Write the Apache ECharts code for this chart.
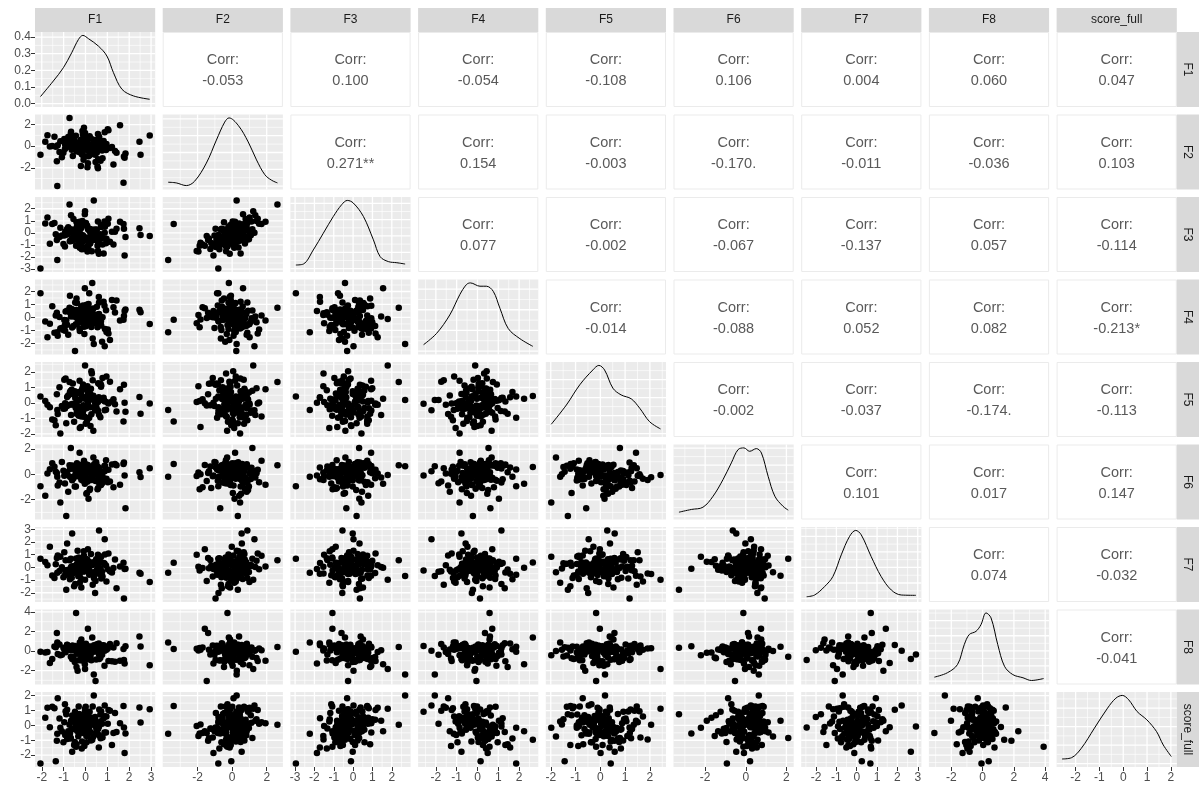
<!DOCTYPE html>
<html>
<head>
<meta charset="utf-8">
<script src="https://cdn.jsdelivr.net/npm/echarts@6/dist/echarts.min.js"></script>
<style>
  html, body { margin: 0; padding: 0; background: #ffffff; }
  #chart { width: 1199px; height: 790px; }
</style>
</head>
<body>
<div id="chart"></div>
<script>
// ---- variables (one array per column of the data set) ----
const variables = ['F1', 'F2', 'F3', 'F4', 'F5', 'F6', 'F7', 'F8', 'score_full'];

const F1 = [-2.06, 2.94, 2.47, 2.52, -1.29, 1.74, -0.43, 0.62,
  -0.35, 0.12, -1.42, 0.58, -0.08, 1.21, -0.66, 0.33, 0.04, -0.21,
  0.87, -0.94, 0.25, -0.48, 1.76, -0.12, 0.61, -1.15, -0.29, 0.46,
  -0.73, -0.05, 0.19, -1.63, 0.78, -0.39, 1.02, -0.17, -0.88, 0.31,
  -0.55, 0.09, -1.27, 0.52, -0.02, 0.94, -0.61, 0.17, -1.84, 0.69,
  -0.26, 1.35, -0.44, 0.05, -0.97, 0.38, 1.83, -0.14, -0.52, 0.83,
  -1.08, 0.27, -0.31, -0.79, 0.11, 0.72, -1.36, -0.03, 0.44, -0.67,
  1.12, -0.23, 0.57, -1.52, 0.21, -0.41, 0.96, -0.09, -0.84, 0.36,
  1.58, -1.01, 0.14, -0.58, 0.68, -0.19, -1.74, 0.29, -0.36, 1.28,
  0.01, -0.71, 0.49, -1.19, 0.88, 1.79, -0.27, 0.62, -0.47, 0.07,
  -1.31, 0.41, -0.11, 1.05, -0.63, 0.23, 0.55, -0.91, 1.42, -0.16,
  -0.07, 0.76,
  -0.45, 0.18, -0.22, 0.36, -0.61, 0.08, 0.52, -0.33, 0.27, -0.05,
  0.71, -0.84, 0.13, -0.19, 0.44, -0.38, 0.02, 0.63, -0.71, 0.31,
  -0.12, 0.89, -0.49, 0.22, -0.27, 0.57, -0.03, -0.93, 0.39, 0.15];

const F2 = [-0.80, 1.00, 0.40, -0.80, -3.70, -3.38, -0.27, 0.88,
  0.15, -0.42, 0.88, -1.21, 0.37, -0.08, 1.34, -0.65, 0.52, -1.83,
  0.03, -0.27, 0.71, 0.24, -0.96, 1.08, -0.14, 0.46, -0.53, -1.47,
  2.62, -0.31, 0.92, -0.02, -1.12, 0.19, 1.56, -0.74, 0.33, -0.19,
  0.78, -1.95, 0.08, -0.58, 1.22, -0.36, 0.55, -0.87, 0.41, -1.34,
  0.12, -0.45, 0.97, -0.11, 0.67, 0.26, -0.69, 1.41, -0.24, 0.49,
  -1.02, 0.06, -0.38, 0.84, -1.58, 0.29, -0.05, 0.63, -0.79, 1.17,
  -0.16, 0.38, -2.05, 0.01, 0.74, -0.47, 0.21, -1.26, 0.56, -0.29,
  1.93, -0.62, 0.14, -0.91, 0.44, -0.12, 1.01, -0.35, 0.27, -1.71,
  0.69, -0.07, 0.35, -0.55, 1.29, -1.08, 0.17, 0.82, -0.21, 0.04,
  -1.39, 0.58, -0.83, 1.48, -0.33, 0.09, -1.88, 0.47, -0.60, 0.22,
  1.70, -0.40,
  0.32, -0.18, 0.54, -0.47, 0.11, 0.73, -0.29, 0.06, -0.66, 0.42,
  -0.09, 0.28, -0.94, 0.61, 0.17, -0.37, 0.85, -0.12, 0.36, -0.53,
  0.04, -0.21, 0.49, -0.78, 0.23, 1.12, -0.31, 0.14, -0.05, 0.67];

const F3 = [-2.96, -0.26, 0.39, -0.18, -2.24, 0.73, -1.07, -0.55,
  -0.57, 0.28, 0.81, -0.84, -1.21, 0.10, 1.45, -0.55, -0.49, -0.82,
  0.94, -1.13, 0.23, -0.31, 0.35, -0.19, -1.72, 0.43, -0.38, -0.26,
  2.36, -0.66, 0.16, -0.90, -0.97, 0.53, 0.75, -1.36, 0.18, -0.42,
  1.14, -1.54, -0.31, 0.27, 1.79, -0.85, -0.02, -0.78, 0.78, -0.47,
  -1.23, 0.09, -0.52, 0.59, -0.21, 2.69, -0.35, 0.99, -0.53, -1.71,
  -0.22, -0.26, -1.08, 0.46, -1.07, 0.48, -0.11, 1.55, -0.56, 0.31,
  -0.73, -0.09, -1.50, 0.74, -0.89, 0.88, -0.48, -1.33, 0.33, -0.40,
  0.93, -0.92, 0.32, -0.60, -0.11, 0.51, 1.27, -1.53, 0.02, -0.96,
  0.73, -0.68, 0.23, -0.35, 0.02, -1.87, 0.93, -0.37, 0.30, -0.42,
  -0.60, 0.28, -0.27, 1.16, -0.67, -0.09, -1.06, -0.13, 0.35, -0.79,
  0.73, -0.42,
  -0.21, 0.35, -0.62, 0.12, -0.43, 0.58, -0.08, -0.91, 0.27, -0.35,
  0.66, -0.14, -1.18, 0.41, -0.52, 0.03, 0.82, -0.29, -0.69, 0.19,
  -0.37, 0.51, -0.02, -0.83, 0.24, 0.94, -0.46, 0.07, -0.58, 0.33];

const F4 = [1.86, -0.50, 0.60, 0.40, -1.14, -0.17, 0.58, 1.15,
  -0.42, 0.65, -1.18, 0.23, -0.71, 1.34, 0.08, -1.62, 0.47, -0.15,
  0.91, -0.58, 0.36, -2.59, 0.12, -0.34, 1.57, -0.86, 0.29, -0.05,
  0.74, -1.27, 0.51, -0.48, 0.02, 1.12, -0.93, 0.41, -0.22, 2.66,
  -0.66, 0.18, -1.41, 0.83, -0.11, 0.55, -0.77, 1.86, -0.31, 0.06,
  -1.05, 0.38, -0.53, 0.97, -0.19, -2.05, 0.62, -0.37, 0.26, 1.21,
  -0.81, 0.44, -0.02, -1.33, 0.71, -0.62, 0.15, 2.24, -0.27, 0.53,
  -1.74, 0.33, -0.45, 0.87, -0.09, 1.45, -1.12, 0.21, -0.57, 0.68,
  -0.24, -0.96, 1.03, 0.11, -0.39, 0.58, -1.52, 0.32, -0.14, 0.79,
  -0.68, 1.68, -0.33, 0.04, -2.21, 0.49, -0.86, 0.27, 1.15, -0.51,
  0.36, -0.18, 0.93, -1.24, 0.61, -0.01, -0.75, 0.45, 1.31, -0.29,
  0.16, -1.87,
  0.21, -0.36, 0.47, -0.12, 0.64, -0.55, 0.09, 0.33, -0.74, 0.16,
  -0.28, 0.52, -0.03, 0.85, -0.44, 0.27, -0.61, 0.13, 0.39, -0.19,
  0.71, -0.88, 0.05, -0.32, 0.58, -0.07, 0.42, -1.02, 0.24, -0.49];

const F5 = [0.42, -0.04, 0.38, -0.70, -0.46, -1.20, -0.17, 0.28,
  -0.23, 0.56, -1.12, 1.28, -0.41, 0.09, -0.78, 1.47, 0.31, -1.55,
  0.14, -0.36, 0.92, -0.05, 1.18, -0.64, 0.37, -1.98, 0.71, -0.17,
  1.35, -0.89, 0.22, -0.28, 1.62, -0.52, 0.03, 0.83, -1.31, 0.45,
  -0.12, 1.09, -0.71, 0.26, 2.43, -0.44, 0.58, -0.95, 0.12, 1.24,
  -1.62, -0.08, 0.67, -0.33, 1.51, 0.19, -0.57, 0.96, -1.21, 0.34,
  -0.19, 2.05, -0.83, 0.48, -0.02, 1.13, -1.44, 0.28, -0.49, 0.79,
  1.38, -0.26, 0.06, -1.07, 0.62, -0.69, 1.72, -0.14, 0.39, -1.79,
  0.88, -0.38, 0.17, 1.26, -0.93, 0.53, -0.11, 1.91, -0.61, 0.24,
  -1.35, 0.71, -0.21, 1.02, -0.47, 0.01, 1.44, -0.76, 0.32, -1.16,
  0.57, -0.30, 1.19, -0.04, 0.85, -1.49, 0.13, 1.58, -0.55, 0.42,
  -0.87, 0.20,
  -0.31, 0.22, -0.58, 0.47, -0.06, 0.81, -0.42, 0.14, -0.73, 0.36,
  1.05, -0.19, 0.28, -0.87, 0.02, 0.63, -0.34, 1.22, -0.11, 0.45,
  -0.64, 0.09, 0.76, -0.27, 0.19, -0.48, 0.93, -0.02, 0.33, -0.95];

const F6 = [-0.93, 0.48, 0.16, -0.20, -0.19, 0.82, -0.12, -0.64,
  0.35, -0.42, 0.61, -1.08, 0.12, 0.79, -0.25, 0.48, -1.53, 0.02,
  0.66, -0.71, 0.27, -0.08, 0.93, -0.36, 0.54, -2.21, 0.18, -0.53,
  0.72, 0.05, -1.24, 0.41, -0.15, 0.87, -0.62, 0.31, -3.29, 0.58,
  -0.31, 0.14, -0.87, 0.69, -0.04, 1.12, -0.47, 0.38, -1.69, 0.24,
  -0.18, 0.82, -0.95, 0.52, -0.11, 0.64, -2.68, 0.09, 0.45, -0.39,
  0.97, -0.22, 0.33, -1.36, 0.75, -0.06, 0.21, -0.74, 0.57, 2.09,
  -0.56, 0.43, -0.13, 0.88, -1.14, 0.16, -0.34, 0.62, -0.02, 1.34,
  -0.81, 0.29, -1.92, 0.51, -0.27, 0.76, 0.07, -0.45, 0.39, -1.01,
  0.68, -0.19, 0.95, -0.64, 0.25, -0.09, 1.71, -0.37, 0.47, -1.47,
  0.11, 0.83, -0.51, 0.36, -0.23, 0.59, -1.18, 0.02, 0.73, -0.29,
  1.08, -0.70,
  0.22, -0.31, 0.49, -0.05, 0.71, -0.58, 0.15, 0.38, -0.19, 0.63,
  -0.84, 0.07, 0.56, -0.42, 0.29, -0.13, 0.81, -0.66, 0.42, 0.01,
  -0.27, 0.68, -0.95, 0.33, -0.08, 0.52, -0.38, 0.19, 0.74, -0.49];

const F7 = [0.67, -1.16, -0.42, -0.50, -0.42, 0.37, 0.69, 2.91,
  -0.18, 0.47, -0.83, 0.12, 1.26, -0.41, 0.03, -1.37, 0.64, -0.09,
  0.31, -0.62, 1.05, -0.24, -2.46, 0.19, -0.51, 0.83, -0.02, -1.08,
  0.56, -0.33, 0.09, 1.62, -0.72, 0.27, -0.14, 0.71, -1.76, 0.38,
  -0.45, 0.05, 0.94, -0.27, -0.97, 0.15, 2.66, -0.58, 0.42, -0.07,
  -1.21, 0.61, -0.36, 0.22, 1.18, -0.69, -0.11, 0.52, -1.49, 0.34,
  0.01, -0.53, 0.78, -0.19, 1.43, -0.88, 0.25, -0.04, -2.01, 0.67,
  -0.31, 0.11, 0.99, -0.64, 0.36, -0.16, -1.12, 0.58, 1.87, -0.39,
  0.07, -0.77, 0.44, -0.22, 0.86, -1.58, 0.17, -0.48, 1.31, -0.05,
  0.29, -0.93, 0.63, -0.29, 2.21, -0.12, -0.67, 0.41, -1.31, 0.13,
  0.74, -0.44, -0.01, 1.09, -0.82, 0.33, -0.25, 0.55, -1.64, 0.04,
  0.92, -0.35,
  0.14, -0.26, 0.39, -0.53, 0.08, 0.62, -0.17, -0.71, 0.29, -0.04,
  0.81, -0.38, 0.21, -0.92, 0.47, -0.12, 0.03, 0.56, -0.61, 0.18,
  -0.33, 1.02, -0.08, 0.35, -0.47, 0.11, 0.69, -0.22, -0.85, 0.26];

const F8 = [-0.07, -1.45, 1.48, 0.45, 0.86, 0.20, 3.90, -0.35,
  0.21, -0.85, 0.47, -0.12, 0.63, -1.04, 0.08, 0.35, -0.67, 0.14,
  -1.52, 0.29, -0.23, 0.52, -0.91, 0.02, 0.76, -0.44, 0.18, -3.08,
  0.41, -0.76, 0.11, -1.23, 0.57, -0.05, 0.26, -0.97, 0.33, 1.38,
  -0.61, 0.06, -0.31, 0.69, -1.85, 0.23, -0.83, 0.44, -0.15, 0.12,
  0.87, -1.11, 0.31, -0.52, 0.17, -2.41, 0.48, -0.72, 0.04, 0.58,
  -0.39, 0.27, -0.94, 0.15, 2.28, -0.26, 0.39, -1.36, 0.09, -0.58,
  0.71, -0.08, 0.22, -0.81, 0.46, -1.65, 0.13, -0.35, 0.62, 0.01,
  -0.99, 0.34, -0.19, 0.54, -0.68, 1.17, -0.11, 0.25, -2.02, 0.37,
  -0.47, 0.19, -0.88, 0.66, 0.03, -1.28, 0.43, -0.29, 0.28, -0.74,
  1.84, -0.02, 0.51, -1.02, 0.16, -0.55, 0.32, -0.14, 0.79, -0.90,
  0.07, -0.38,
  0.18, -0.42, 0.36, -0.08, 0.55, -0.71, 0.12, 0.27, -0.95, 0.41,
  -0.19, 0.63, 0.05, -0.56, 0.31, -0.28, 0.74, -0.83, 0.22, 0.09,
  -0.35, 0.48, -1.12, 0.15, -0.02, 0.37, -0.64, 0.24, 0.58, -0.15];

const score_full = [-2.57, 1.08, 1.20, 0.20, -0.56, 1.30, -1.43, -0.08,
  0.63, -0.54, 1.16, -0.23, 0.41, -1.32, 0.31, 1.28, -0.71, 0.07,
  -0.47, 1.42, -1.02, 0.92, -0.14, 0.68, -1.49, -0.16, 0.77, -0.51,
  0.04, -1.39, 0.92, -0.12, -0.81, 0.26, 0.12, -1.56, 0.75, -0.96,
  0.38, -0.72, 1.83, -0.25, 1.12, -0.48, -1.77, -0.15, 0.52, -0.87,
  0.27, 0.83, -0.17, -1.14, 0.21, 2.02, -0.54, 0.42, -1.32, 0.48,
  -0.39, 0.04, 1.28, -0.39, -0.40, 0.93, -2.41, -0.40, 0.57, -0.85,
  0.98, 0.14, -0.04, 1.26, -0.42, -1.27, 0.60, -0.21, 1.05, -0.75,
  0.14, -1.14, 0.31, -0.26, 0.74, -0.10, 1.19, -0.94, 0.31, -0.51,
  1.26, -0.88, -0.16, 0.46, 1.34, -1.85, 0.32, -0.66, 0.13, 0.69,
  -1.04, 0.06, -0.51, 1.04, -0.24, 0.41, -0.54, 0.96, -0.45, -1.08,
  0.21, 0.11,
  -0.12, 0.35, -0.48, 0.21, 0.67, -0.29, 0.04, -0.73, 0.52, -0.18,
  0.28, -0.91, 0.83, -0.06, 0.41, -0.37, 0.14, 1.07, -0.55, 0.09,
  -0.24, 0.61, -1.11, 0.32, -0.43, 0.18, 0.92, -0.65, 0.25, -0.01];

// ---- axis tick labels per variable ----
const ticksF1 = [-2, -1, 0, 1, 2, 3];
const ticksF2 = [-2, 0, 2];
const ticksF3 = [-3, -2, -1, 0, 1, 2];
const ticksF4 = [-2, -1, 0, 1, 2];
const ticksF5 = [-2, -1, 0, 1, 2];
const ticksF6 = [-2, 0, 2];
const ticksF7 = [-2, -1, 0, 1, 2, 3];
const ticksF8 = [-2, 0, 2, 4];
const ticksScore = [-2, -1, 0, 1, 2];
const densityTicks = [0.0, 0.1, 0.2, 0.3, 0.4];

// ---- kernel density curves on the diagonal: [value, density] ----
const densF1 = [[-2.06, 0.042], [-1.47, 0.136], [-1.01, 0.216], [-0.63, 0.306], [-0.32, 0.386], [-0.12, 0.410], [0.14, 0.390], [0.59, 0.346], [0.98, 0.286], [1.28, 0.186], [1.67, 0.086], [2.20, 0.046], [2.94, 0.026]];
const densF2 = [[-3.70, 0.023], [-3.23, 0.019], [-2.65, 0.003], [-2.17, 0.029], [-1.49, 0.137], [-0.91, 0.274], [-0.43, 0.381], [-0.18, 0.406], [0.35, 0.362], [0.93, 0.263], [1.41, 0.156], [1.89, 0.068], [2.28, 0.035], [2.62, 0.019]];
const densF3 = [[-2.96, 0.022], [-2.57, 0.028], [-2.06, 0.114], [-1.54, 0.217], [-1.02, 0.320], [-0.59, 0.392], [-0.30, 0.418], [0.01, 0.402], [0.53, 0.320], [1.05, 0.176], [1.40, 0.073], [1.82, 0.043], [2.26, 0.036], [2.69, 0.028]];
const densF4 = [[-2.59, 0.031], [-1.97, 0.085], [-1.33, 0.175], [-0.85, 0.273], [-0.53, 0.322], [-0.34, 0.330], [0.12, 0.314], [0.43, 0.314], [0.76, 0.289], [1.08, 0.207], [1.48, 0.109], [2.04, 0.060], [2.66, 0.023]];
const densF5 = [[-1.98, 0.052], [-1.37, 0.159], [-0.83, 0.271], [-0.30, 0.354], [-0.06, 0.379], [0.17, 0.354], [0.51, 0.252], [0.84, 0.215], [1.25, 0.193], [1.59, 0.141], [1.99, 0.066], [2.43, 0.026]];
const densF6 = [[-3.29, 0.023], [-2.68, 0.039], [-2.11, 0.052], [-1.61, 0.117], [-1.12, 0.215], [-0.71, 0.313], [-0.38, 0.391], [-0.09, 0.401], [0.19, 0.381], [0.52, 0.397], [0.77, 0.371], [1.10, 0.234], [1.43, 0.117], [1.83, 0.058], [2.09, 0.035]];
const densF7 = [[-2.46, 0.012], [-2.07, 0.023], [-1.58, 0.077], [-1.17, 0.142], [-0.76, 0.281], [-0.35, 0.400], [-0.05, 0.438], [0.22, 0.410], [0.71, 0.270], [1.20, 0.142], [1.70, 0.055], [2.19, 0.023], [2.91, 0.021]];
const densF8 = [[-3.08, 0.026], [-2.25, 0.055], [-1.60, 0.110], [-1.17, 0.241], [-0.85, 0.308], [-0.42, 0.329], [-0.10, 0.374], [0.22, 0.451], [0.54, 0.418], [0.97, 0.241], [1.40, 0.098], [1.93, 0.043], [2.58, 0.022], [3.12, 0.004], [3.90, 0.017]];
const densScore = [[-2.57, 0.025], [-2.17, 0.032], [-1.76, 0.083], [-1.21, 0.192], [-0.66, 0.300], [-0.31, 0.354], [-0.04, 0.369], [0.23, 0.345], [0.58, 0.282], [0.99, 0.237], [1.40, 0.173], [1.68, 0.101], [2.02, 0.038]];

// ---- correlation labels, upper triangle, row by row ----
const corrRowF1 = ['-0.053', '0.100', '-0.054', '-0.108', '0.106', '0.004', '0.060', '0.047'];
const corrRowF2 = ['0.271**', '0.154', '-0.003', '-0.170.', '-0.011', '-0.036', '0.103'];
const corrRowF3 = ['0.077', '-0.002', '-0.067', '-0.137', '0.057', '-0.114'];
const corrRowF4 = ['-0.014', '-0.088', '0.052', '0.082', '-0.213*'];
const corrRowF5 = ['-0.002', '-0.037', '-0.174.', '-0.113'];
const corrRowF6 = ['0.101', '0.017', '0.147'];
const corrRowF7 = ['0.074', '-0.032'];
const corrRowF8 = ['-0.041'];

// ---- assembly ----
const columns = [F1, F2, F3, F4, F5, F6, F7, F8, score_full];
const tickSets = [ticksF1, ticksF2, ticksF3, ticksF4, ticksF5, ticksF6, ticksF7, ticksF8, ticksScore];
const densities = [densF1, densF2, densF3, densF4, densF5, densF6, densF7, densF8, densScore];
const corrRows = [corrRowF1, corrRowF2, corrRowF3, corrRowF4, corrRowF5, corrRowF6, corrRowF7, corrRowF8];

const FONT = '"Liberation Sans", Arial, Helvetica, sans-serif';
const LEFT = 35, TOP = 32, PW = 120.2, PH = 75, GAP = 7.5;
const colX = i => LEFT + i * (PW + GAP);
const rowY = j => TOP + j * (PH + GAP);
const nVar = variables.length;
const N = Math.min(...columns.map(c => c.length));

function paddedRange(lo, hi) {
  const p = (hi - lo) * 0.05;
  return [lo - p, hi + p];
}
const varRange = columns.map(c => {
  const v = c.slice(0, N);
  return paddedRange(Math.min(...v), Math.max(...v));
});
const densRange = densities.map(d => paddedRange(0, Math.max(...d.map(p => p[1]))));

function minorBreaks(ticks, lim) {
  const out = [];
  const step = ticks[1] - ticks[0];
  if (ticks[0] - step / 2 >= lim[0]) out.push(ticks[0] - step / 2);
  for (let k = 0; k < ticks.length - 1; k++) out.push((ticks[k] + ticks[k + 1]) / 2);
  const last = ticks[ticks.length - 1];
  if (last + step / 2 <= lim[1]) out.push(last + step / 2);
  return out;
}
function densityBreaks(lim) {
  const t = [];
  for (let k = 0; k * 0.1 <= lim[1] + 1e-9; k++) t.push(k / 10);
  return t;
}

const grids = [], xAxes = [], yAxes = [], series = [], graphics = [];

// white major / minor guide lines of one panel, placed through the panel's own axes
function gridLineSeries(gi, xMaj, xMin, yMaj, yMin, xr, yr) {
  const items = [];
  xMin.forEach(v => items.push([v, 0, 0]));
  yMin.forEach(v => items.push([v, 1, 0]));
  xMaj.forEach(v => items.push([v, 0, 1]));
  yMaj.forEach(v => items.push([v, 1, 1]));
  return {
    type: 'custom', xAxisIndex: gi, yAxisIndex: gi, silent: true, z: 1,
    data: items,
    renderItem: (params, api) => {
      const cs = params.coordSys;
      const v = api.value(0), dir = api.value(1), major = api.value(2);
      const w = major ? 1.3 : 0.65;
      if (dir === 0) {
        const x = api.coord([v, yr[0]])[0];
        return { type: 'line', shape: { x1: x, y1: cs.y, x2: x, y2: cs.y + cs.height }, style: { stroke: '#ffffff', lineWidth: w } };
      }
      const y = api.coord([xr[0], v])[1];
      return { type: 'line', shape: { x1: cs.x, y1: y, x2: cs.x + cs.width, y2: y }, style: { stroke: '#ffffff', lineWidth: w } };
    }
  };
}

const axisLabelStyle = { color: '#4D4D4D', fontSize: 12, fontFamily: FONT };

for (let j = 0; j < nVar; j++) {
  for (let i = 0; i <= j; i++) {
    const gi = grids.length;
    const diag = i === j;
    const xr = varRange[i];
    const yr = diag ? densRange[i] : varRange[j];
    const xt = tickSets[i];
    const yt = diag ? densityBreaks(yr) : tickSets[j];
    const ytMinor = diag ? yt.map(v => v + 0.05).filter(v => v <= yr[1]) : minorBreaks(yt, yr);
    const yLabels = diag ? densityTicks : tickSets[j];

    grids.push({ left: colX(i), top: rowY(j), width: PW, height: PH, show: true, backgroundColor: '#EBEBEB', borderWidth: 0 });

    const bottomRow = j === nVar - 1;
    const leftCol = i === 0;
    xAxes.push({
      gridIndex: gi, type: 'value', min: xr[0], max: xr[1], position: 'bottom',
      axisLine: { show: false, onZero: false }, splitLine: { show: false },
      axisTick: { show: bottomRow, customValues: xt, length: 4, lineStyle: { color: '#333333', width: 1 } },
      axisLabel: Object.assign({ show: bottomRow, customValues: xt, margin: 5, formatter: v => String(v) }, axisLabelStyle)
    });
    yAxes.push({
      gridIndex: gi, type: 'value', min: yr[0], max: yr[1], position: 'left',
      axisLine: { show: false, onZero: false }, splitLine: { show: false },
      axisTick: { show: leftCol, customValues: yLabels, length: 4, lineStyle: { color: '#333333', width: 1 } },
      axisLabel: Object.assign({ show: leftCol, customValues: yLabels, margin: 4,
        formatter: v => diag ? v.toFixed(1) : String(v) }, axisLabelStyle)
    });

    series.push(gridLineSeries(gi, xt, minorBreaks(xt, xr), yt, ytMinor, xr, yr));

    if (diag) {
      series.push({
        type: 'line', xAxisIndex: gi, yAxisIndex: gi, z: 3,
        data: densities[i], smooth: 0.35, showSymbol: false, silent: true,
        lineStyle: { color: '#000000', width: 1 }
      });
    } else {
      const pts = [];
      for (let k = 0; k < N; k++) pts.push([columns[i][k], columns[j][k]]);
      series.push({
        type: 'scatter', xAxisIndex: gi, yAxisIndex: gi, z: 3,
        data: pts, symbol: 'circle', symbolSize: 6.5, silent: true,
        itemStyle: { color: '#000000', opacity: 1 }
      });
    }
  }
}

// correlation text panels
for (let j = 0; j < nVar - 1; j++) {
  for (let i = j + 1; i < nVar; i++) {
    const x = colX(i), y = rowY(j);
    graphics.push({
      type: 'rect', silent: true, z: 1,
      shape: { x: x + 0.5, y: y + 0.5, width: PW - 1, height: PH - 1 },
      style: { fill: '#ffffff', stroke: '#EBEBEB', lineWidth: 1 }
    });
    graphics.push({
      type: 'text', silent: true, z: 2, x: x + PW / 2, y: y + PH / 2 + 1,
      style: {
        text: 'Corr:\n' + corrRows[j][i - j - 1],
        fill: '#595959', font: '14.5px ' + FONT, lineHeight: 21,
        textAlign: 'center', textVerticalAlign: 'middle'
      }
    });
  }
}

// facet strips: variable names on top and on the right
for (let i = 0; i < nVar; i++) {
  graphics.push({
    type: 'rect', silent: true, z: 1,
    shape: { x: colX(i), y: 8, width: PW, height: TOP - 8 },
    style: { fill: '#D9D9D9' }
  });
  graphics.push({
    type: 'text', silent: true, z: 2, x: colX(i) + PW / 2, y: (8 + TOP) / 2,
    style: { text: variables[i], fill: '#1A1A1A', font: '12px ' + FONT, textAlign: 'center', textVerticalAlign: 'middle' }
  });
  const sx = colX(nVar - 1) + PW;
  graphics.push({
    type: 'rect', silent: true, z: 1,
    shape: { x: sx, y: rowY(i), width: 24, height: PH },
    style: { fill: '#D9D9D9' }
  });
  graphics.push({
    type: 'text', silent: true, z: 2, x: sx + 11, y: rowY(i) + PH / 2, rotation: -Math.PI / 2,
    style: { text: variables[i], fill: '#1A1A1A', font: '12px ' + FONT, textAlign: 'center', textVerticalAlign: 'middle' }
  });
}

const chart = echarts.init(document.getElementById('chart'), null, { renderer: 'canvas' });
chart.setOption({
  backgroundColor: '#ffffff',
  animation: false,
  grid: grids,
  xAxis: xAxes,
  yAxis: yAxes,
  series: series,
  graphic: { elements: graphics }
});
</script>
</body>
</html>
